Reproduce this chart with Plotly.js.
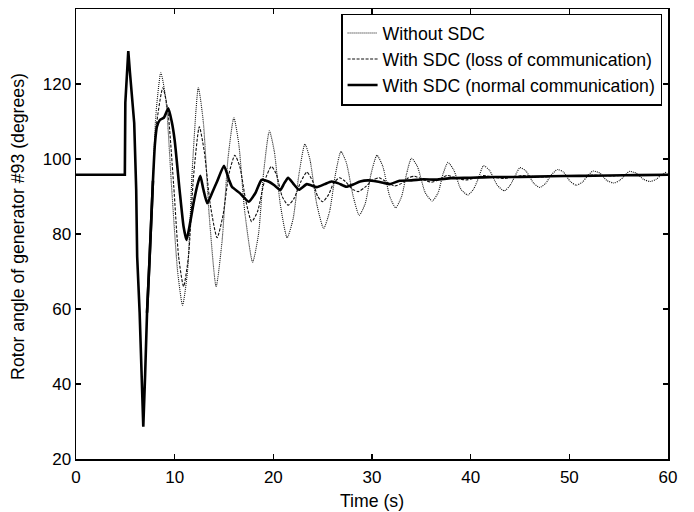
<!DOCTYPE html>
<html>
<head>
<meta charset="utf-8">
<script src="https://cdn.plot.ly/plotly-3.0.1.min.js"></script>
<style>html,body{margin:0;padding:0;background:#fff;}#chart{width:694px;height:512px;}</style>
</head>
<body>
<div id="chart"></div>
<script>
// Common disturbance part (identical for the three cases)
const tCommon = [0, 4.95, 5.0, 5.15, 5.3, 5.47, 5.9, 6.1, 6.2, 6.45, 6.65, 6.82, 7.0, 7.2, 7.45, 7.8];
const vCommon = [95.8, 95.8, 115, 124, 128.8, 123, 109.6, 92, 74, 59, 43, 28.6, 42, 59, 73, 94.2];

// Without SDC (after the common part)
const tWithout = [8.1, 8.6, 9.1, 9.7, 10.3, 10.8, 11.3, 11.8, 12.4, 12.9, 13.5, 14.2, 14.8, 15.4, 16.0, 16.5, 17.1, 17.9, 18.5, 19.0, 19.6, 20.1, 20.7, 21.4, 22.0, 22.6, 23.2, 23.7, 24.4, 25.1, 25.7, 26.3, 26.85, 27.4, 28.1, 28.7, 29.3, 29.9, 30.5, 31.1, 31.8, 32.4, 33.0, 33.5, 34.0, 34.6, 35.4, 36.1, 36.7, 37.2, 37.7, 38.3, 39.0, 39.7, 40.3, 40.8, 41.3, 41.9, 42.7, 43.4, 44.0, 44.5, 45.0, 45.6, 46.4, 47.0, 47.6, 48.1, 48.8, 49.4, 50.1, 50.7, 51.3, 51.8, 52.4, 53.1, 53.8, 54.5, 55.1, 55.6, 56.1, 56.8, 57.5, 58.2, 58.8, 59.3, 59.9];
const vWithout = [112, 123, 116, 92, 70, 61, 70, 98, 119, 110, 85, 66, 78, 100, 111, 104, 86, 72.5, 80, 96, 107.5, 102, 88, 79, 84, 96, 104, 100, 88, 81.5, 86, 96, 102, 99, 90, 85, 88, 96, 101, 98, 90, 87, 90, 96, 100.2, 98, 91, 88.8, 91, 96, 99.1, 97, 92, 90.4, 92, 95, 98.2, 97, 93, 91.5, 93, 95.5, 97.7, 96.8, 93.5, 92.4, 93.5, 95.5, 97.2, 96.5, 94, 93, 93.8, 95.3, 96.8, 96.2, 94.3, 93.6, 94.3, 95.5, 96.7, 96.2, 94.6, 94, 94.6, 95.7, 96.6];

// With SDC (loss of communication)
const tLoss = [8.1, 8.8, 9.3, 9.9, 10.4, 10.9, 11.4, 11.9, 12.5, 13.0, 13.6, 14.3, 14.9, 15.5, 16.1, 16.6, 17.2, 17.8, 18.4, 19.1, 19.8, 20.3, 20.9, 21.5, 22.1, 22.8, 23.4, 24.0, 24.5, 25.0, 25.6, 26.1, 26.7, 27.3, 28.0, 28.6, 29.3, 30.0, 30.7, 31.4, 32.3, 33.0, 33.7, 34.3, 35.2, 36.0, 36.8, 37.6, 38.5, 39.5, 40.4, 41.3, 42.4, 43.4, 44.3, 45.2, 46.5, 47.5, 48.8, 50.5, 52.4, 54.5, 56.3, 58.2, 60];
const vLoss = [108, 119, 113, 93, 74, 66, 74, 95, 108.6, 102, 88, 79, 85, 96, 101, 98, 89, 83.3, 86, 94, 98, 96, 90, 87.7, 89.5, 94, 96.5, 94, 90, 88.6, 90.5, 93.5, 95, 94, 92, 91.3, 92.5, 94.2, 95, 94, 92.8, 93.5, 95, 95.4, 94.5, 93.8, 94.5, 95.6, 95, 94.4, 94.9, 95.6, 95.1, 94.8, 95.2, 95.6, 95.3, 95.2, 95.6, 95.4, 95.7, 95.5, 95.8, 95.6, 95.9];

// With SDC (normal communication)
const tNormal = [8.0, 8.2, 8.5, 8.9, 9.35, 9.7, 10.0, 10.5, 10.9, 11.2, 11.5, 11.9, 12.3, 12.6, 12.9, 13.3, 13.8, 14.3, 15.0, 15.5, 15.8, 16.6, 17.5, 18.2, 18.8, 19.5, 20.1, 20.7, 21.1, 21.5, 22.0, 22.6, 23.4, 24.4, 25.2, 25.9, 26.6, 27.4, 28.1, 28.8, 29.6, 30.5, 31.2, 31.8, 32.8, 34.0, 35.2, 36.5, 38.0, 40.0, 42.5, 45.0, 48.0, 51.0, 54.0, 57.0, 60.0];
const vNormal = [104, 108.6, 110.4, 111, 113.5, 110, 105, 91.7, 82, 78.4, 82, 88, 93, 95.5, 92, 88.2, 91, 94, 98.2, 94.5, 92.6, 90.9, 88.6, 91, 94.4, 94, 93, 91.7, 93.5, 95, 93.5, 91.8, 93.3, 92.5, 93.3, 94, 93.5, 92.6, 93.2, 94, 94.3, 94, 93.6, 93.3, 94.2, 94.3, 94.6, 94.5, 94.9, 95.0, 95.2, 95.2, 95.4, 95.5, 95.6, 95.7, 95.8];

const names = ['Without SDC', 'With SDC (loss of communication)', 'With SDC (normal communication)'];
const xTicks = [0, 10, 20, 30, 40, 50, 60];
const yTicks = [20, 40, 60, 80, 100, 120, 140];
const yTitle = 'Rotor angle of generator #93 (degrees)';
const xTitle = 'Time (s)';

const family = 'Liberation Sans, Arial, sans-serif';
const tickFont = {family: family, size: 17, color: '#000'};
const textFont = {family: family, size: 17.7, color: '#000'};

// tail of the common part where the three responses start to separate
const k = 13;
const tTail = tCommon.slice(k), vTail = vCommon.slice(k);

const traces = [
  {x: tTail.concat(tWithout), y: vTail.concat(vWithout), name: names[0], mode: 'lines',
   line: {color: '#111', width: 1.1, dash: '1px,1px', shape: 'spline', smoothing: 0.6}},
  {x: tTail.concat(tLoss), y: vTail.concat(vLoss), name: names[1], mode: 'lines',
   line: {color: '#111', width: 1.1, dash: '3px,1.5px', shape: 'spline', smoothing: 0.6}},
  {x: tTail.concat(tNormal), y: vTail.concat(vNormal), name: names[2], mode: 'lines',
   line: {color: '#000', width: 2.6, shape: 'spline', smoothing: 0.5}},
  {x: tCommon, y: vCommon, mode: 'lines', showlegend: false,
   line: {color: '#000', width: 2.6, shape: 'linear'}}
];

const axisCommon = {
  showline: true, linecolor: '#000', linewidth: 1.5, mirror: 'ticks',
  ticks: 'inside', ticklen: 5, tickwidth: 1.2, tickcolor: '#000',
  showgrid: false, zeroline: false, tickfont: tickFont
};

const layout = {
  width: 694, height: 512,
  margin: {l: 76, r: 26, t: 9, b: 53},
  paper_bgcolor: '#fff', plot_bgcolor: '#fff',
  font: textFont,
  showlegend: true,
  legend: {x: 0.99, y: 0.99, xanchor: 'right', yanchor: 'top',
           bgcolor: '#fff', bordercolor: '#000', borderwidth: 1.5,
           font: textFont, tracegroupgap: 0},
  xaxis: Object.assign({}, axisCommon, {range: [0, 60], tickvals: xTicks, ticktext: xTicks.map(String),
    ticklabelstandoff: 2,
    title: {text: xTitle, font: textFont, standoff: 8}}),
  yaxis: Object.assign({}, axisCommon, {range: [20, 140], tickvals: yTicks, ticktext: yTicks.map(String)}),
  annotations: [{
    text: yTitle, xref: 'paper', yref: 'paper', x: -0.098, y: 0.518,
    xanchor: 'center', yanchor: 'middle', textangle: -90, showarrow: false, font: textFont
  }]
};

Plotly.newPlot('chart', traces, layout, {displayModeBar: false, staticPlot: true});
</script>
</body>
</html>
